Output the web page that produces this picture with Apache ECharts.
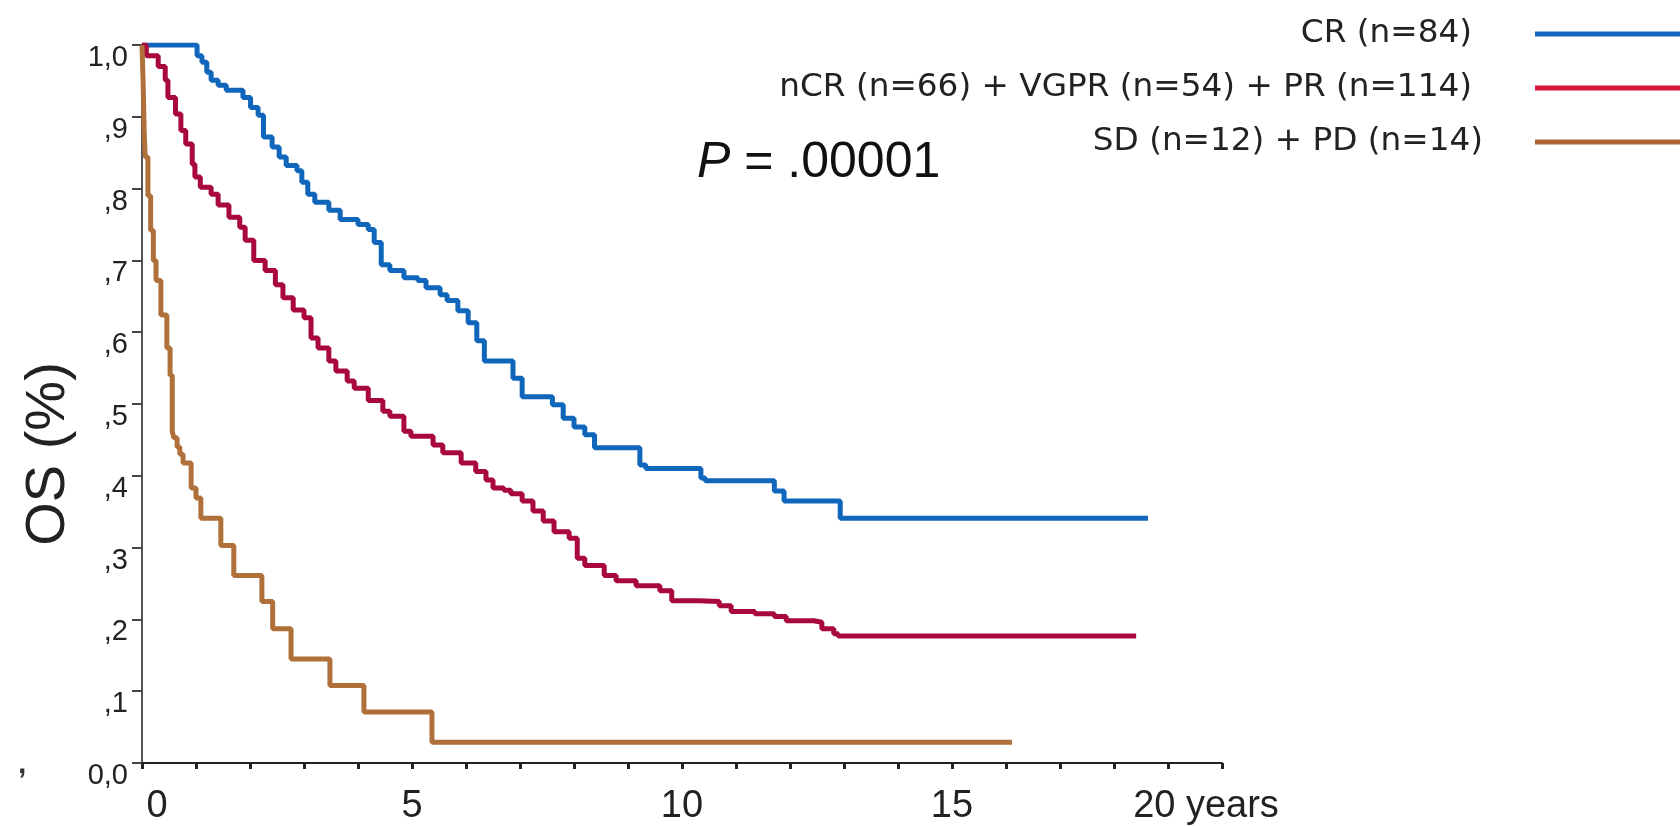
<!DOCTYPE html>
<html>
<head>
<meta charset="utf-8">
<script src="https://cdn.jsdelivr.net/npm/echarts@6/dist/echarts.min.js"></script>
<style>
  html, body { margin: 0; padding: 0; background: #fff; }
  #chart { width: 1680px; height: 826px; }
</style>
</head>
<body>
<div id="chart"></div>
<script>
// group names
const groupNames = ['CR (n=84)', 'nCR (n=66) + VGPR (n=54) + PR (n=114)', 'SD (n=12) + PD (n=14)']

// Kaplan-Meier steps: time in years, survival after the event
const crTime = [0, 1.02, 1.11, 1.2, 1.28, 1.41, 1.56, 1.87, 2.01, 2.15, 2.25, 2.41, 2.54, 2.67, 2.87, 2.96, 3.07, 3.2, 3.46, 3.67, 4.0, 4.19, 4.3, 4.43, 4.59, 4.85, 5.11, 5.26, 5.52, 5.65, 5.85, 6.04, 6.2, 6.34, 6.87, 7.04, 7.6, 7.8, 8.0, 8.2, 8.38, 9.22, 9.33, 10.35, 10.43, 11.71, 11.89, 12.93, 18.63]
const crSurv = [1.0, 0.985, 0.976, 0.962, 0.951, 0.944, 0.937, 0.927, 0.913, 0.902, 0.872, 0.858, 0.844, 0.832, 0.825, 0.809, 0.792, 0.781, 0.77, 0.757, 0.75, 0.743, 0.725, 0.694, 0.686, 0.676, 0.672, 0.662, 0.652, 0.644, 0.63, 0.613, 0.588, 0.56, 0.536, 0.51, 0.499, 0.48, 0.468, 0.457, 0.439, 0.415, 0.41, 0.397, 0.393, 0.379, 0.365, 0.341, 0.341]

const prTime = [0, 0.08, 0.3, 0.43, 0.48, 0.62, 0.72, 0.81, 0.93, 0.98, 1.08, 1.28, 1.41, 1.61, 1.81, 1.91, 2.07, 2.28, 2.47, 2.61, 2.8, 3.0, 3.13, 3.26, 3.46, 3.59, 3.8, 3.93, 4.19, 4.46, 4.59, 4.85, 4.98, 5.39, 5.57, 5.91, 6.18, 6.37, 6.5, 6.7, 6.83, 7.04, 7.24, 7.43, 7.63, 7.91, 8.06, 8.2, 8.56, 8.78, 9.15, 9.59, 9.81, 10.31, 10.69, 10.91, 11.35, 11.71, 11.93, 12.44, 12.59, 12.81, 12.89, 18.41]
const prSurv = [1.0, 0.985, 0.97, 0.951, 0.927, 0.904, 0.881, 0.862, 0.834, 0.816, 0.802, 0.792, 0.777, 0.76, 0.746, 0.728, 0.7, 0.686, 0.666, 0.648, 0.631, 0.62, 0.592, 0.578, 0.56, 0.546, 0.532, 0.522, 0.505, 0.49, 0.483, 0.462, 0.455, 0.443, 0.432, 0.418, 0.406, 0.394, 0.383, 0.38, 0.375, 0.365, 0.351, 0.337, 0.322, 0.313, 0.285, 0.275, 0.261, 0.254, 0.247, 0.24, 0.226, 0.225, 0.219, 0.211, 0.208, 0.204, 0.198, 0.196, 0.187, 0.18, 0.177, 0.177]

const sdTime = [0, 0.02, 0.04, 0.06, 0.11, 0.16, 0.21, 0.26, 0.35, 0.46, 0.52, 0.56, 0.59, 0.65, 0.7, 0.76, 0.91, 1.0, 1.09, 1.46, 1.7, 2.22, 2.42, 2.76, 3.48, 4.11, 5.37, 16.11]
const sdSurv = [1.0, 0.95, 0.88, 0.844, 0.79, 0.742, 0.7, 0.672, 0.624, 0.578, 0.54, 0.462, 0.453, 0.44, 0.43, 0.418, 0.383, 0.369, 0.341, 0.303, 0.261, 0.225, 0.187, 0.145, 0.108, 0.071, 0.029, 0.029]

// tick labels
const xLabels = {0: '0', 5: '5', 10: '10', 15: '15', 20: '20 years'}
const yLabels = ['0,0', ',1', ',2', ',3', ',4', ',5', ',6', ',7', ',8', ',9', '1,0']

const lineColors = ['#1066ba', '#a8083c', '#b0703a']
const legendColors = ['#1565c0', '#d6143c', '#ad6435']

function zip(ts, ss) {
  return ts.map((t, i) => [t, ss[i]])
}

const chart = echarts.init(document.getElementById('chart'))

const series = [zip(crTime, crSurv), zip(prTime, prSurv), zip(sdTime, sdSurv)].map((d, i) => {
  return {
    name: groupNames[i],
    type: 'line',
    step: 'end',
    showSymbol: false,
    symbol: 'none',
    data: d,
    color: lineColors[i],
    lineStyle: { width: 5, color: lineColors[i] }
  }
})

chart.setOption({
  animation: false,
  grid: { left: 142, right: 458, top: 45, bottom: 63 },
  legend: {
    orient: 'vertical',
    right: 0,
    top: 14,
    padding: 0,
    align: 'right',
    icon: 'rect',
    itemWidth: 145,
    itemHeight: 5,
    itemGap: 14,
    selectedMode: false,
    textStyle: {
      fontFamily: 'DejaVu Sans',
      fontSize: 32.7,
      color: '#222',
      lineHeight: 40,
      width: 760,
      align: 'right',
      padding: [0, 58, 0, 0]
    },
    data: [
      { name: groupNames[0], itemStyle: { color: legendColors[0] } },
      { name: groupNames[1], itemStyle: { color: legendColors[1] } },
      { name: groupNames[2], itemStyle: { color: legendColors[2] },
        textStyle: { width: 771, padding: [0, 47, 0, 0] } }
    ]
  },
  xAxis: {
    type: 'value',
    min: 0,
    max: 20,
    interval: 1,
    splitLine: { show: false },
    axisLine: { lineStyle: { color: '#222', width: 2 } },
    axisTick: { length: 6, lineStyle: { color: '#222', width: 3 } },
    axisLabel: {
      margin: 25,
      fontFamily: 'Liberation Sans',
      fontSize: 38,
      color: '#222',
      formatter: v => {
        if (v === 0) return '{a|0}'
        if (v === 20) return '{b|20 years}'
        return xLabels[v] || ''
      },
      rich: {
        a: { fontFamily: 'Liberation Sans', fontSize: 38, color: '#222', padding: [0, 0, 0, 30] },
        b: { fontFamily: 'Liberation Sans', fontSize: 38, color: '#222', padding: [0, 32, 0, 0] }
      }
    }
  },
  yAxis: {
    type: 'value',
    min: 0,
    max: 1,
    interval: 0.1,
    splitLine: { show: false },
    name: 'OS (%)',
    nameLocation: 'middle',
    nameRotate: 90,
    nameGap: 37,
    nameTextStyle: {
      fontFamily: 'Liberation Sans',
      fontSize: 56,
      color: '#222',
      padding: [0, 100, 0, 0]
    },
    axisLine: { show: true, lineStyle: { color: '#555', width: 2 } },
    axisTick: { show: true, length: 10, lineStyle: { color: '#444', width: 2 } },
    axisLabel: {
      margin: 14,
      fontFamily: 'Liberation Sans',
      fontSize: 29,
      color: '#222',
      verticalAlign: 'top',
      lineHeight: 26,
      formatter: v => yLabels[Math.round(v * 10)]
    }
  },
  graphic: [
    {
      type: 'text',
      left: 697,
      top: 138,
      style: {
        text: '{i|P} = .00001',
        fontFamily: 'Liberation Sans',
        fontSize: 50,
        fill: '#111',
        rich: {
          i: { fontFamily: 'Liberation Sans', fontSize: 50, fontStyle: 'italic', fill: '#111' }
        }
      }
    },
    {
      type: 'text',
      left: 18,
      top: 750,
      style: { text: ',', fontFamily: 'Liberation Sans', fontSize: 30, fontWeight: 'bold', fill: '#333' }
    }
  ],
  series: series
})
</script>
</body>
</html>
